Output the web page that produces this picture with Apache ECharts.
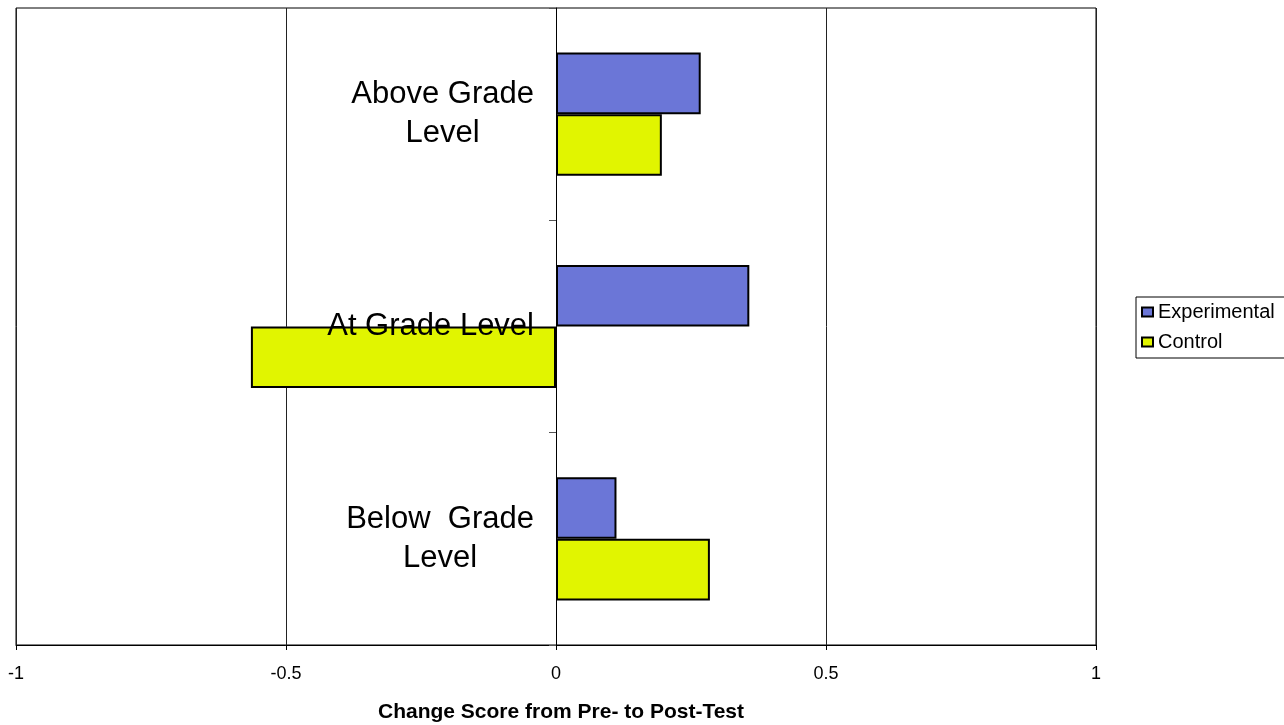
<!DOCTYPE html>
<html>
<head>
<meta charset="utf-8">
<script src="https://cdn.jsdelivr.net/npm/echarts@6/dist/echarts.min.js"></script>
<style>
html,body{margin:0;padding:0;background:#fff;}
#chart{width:1284px;height:725px;}
</style>
</head>
<body>
<div id="chart"></div>
<script>
var categories = ['Below Grade Level', 'At Grade Level', 'Above Grade Level'];
var categoryLabels = {
  'Below Grade Level': ['Below  Grade', 'Level'],
  'At Grade Level': ['At Grade Level'],
  'Above Grade Level': ['Above Grade', 'Level']
};
var experimental = [0.112, 0.358, 0.268];
var control = [0.285, -0.565, 0.196];
var xTicks = { min: -1, max: 1, interval: 0.5 };
var axisTitle = 'Change Score from Pre- to Post-Test';

var FONT = '"Liberation Sans", Arial, sans-serif';
var GRID_LEFT = 16, GRID_RIGHT = 188;
var plotWidth = 1284 - GRID_LEFT - GRID_RIGHT;
// offset of the category axis so it sits at x = 0 of the value axis
var yAxisOffset = -plotWidth * (0 - xTicks.min) / (xTicks.max - xTicks.min);

var chart = echarts.init(document.getElementById('chart'));
chart.setOption({
  animation: false,
  textStyle: { fontFamily: FONT },
  grid: {
    left: GRID_LEFT, right: GRID_RIGHT, top: 8, bottom: 80,
    show: true, borderColor: '#000', borderWidth: 1, backgroundColor: 'transparent',
    containLabel: false,
    outerBoundsMode: 'none'
  },
  legend: {
    orient: 'vertical',
    left: 1136, top: 297,
    data: ['Experimental', 'Control'],
    icon: 'rect',
    itemWidth: 11, itemHeight: 9, itemGap: 10,
    borderColor: '#000', borderWidth: 1,
    padding: [5, 10, 6, 5],
    itemStyle: { borderColor: '#000', borderWidth: 2 },
    textStyle: { fontSize: 20, color: '#000', fontFamily: FONT }
  },
  xAxis: {
    type: 'value',
    min: xTicks.min, max: xTicks.max, interval: xTicks.interval,
    name: axisTitle,
    nameLocation: 'middle',
    nameGap: 57,
    nameTextStyle: { fontSize: 21, fontWeight: 'bold', color: '#000', fontFamily: FONT, padding: [0, 0, 0, 10] },
    axisLine: { show: true, onZero: false, lineStyle: { color: '#000', width: 1 } },
    axisTick: { show: true, length: 5, lineStyle: { color: '#000' } },
    axisLabel: { fontSize: 18, color: '#000', margin: 20, fontFamily: FONT },
    splitLine: { show: true, lineStyle: { color: '#222', width: 1 } }
  },
  yAxis: {
    type: 'category',
    data: categories,
    position: 'left',
    offset: yAxisOffset,
    z: 10,
    axisLine: { show: true, onZero: false, lineStyle: { color: '#000', width: 1 } },
    axisTick: { show: true, length: 7, lineStyle: { color: '#555' } },
    axisLabel: {
      margin: 22,
      fontFamily: FONT,
      formatter: function (v) {
        return categoryLabels[v].map(function (s) { return '{a|' + s + '}'; }).join('\n');
      },
      rich: {
        a: { fontSize: 31, lineHeight: 39, color: '#000', align: 'center', fontFamily: FONT }
      }
    },
    splitLine: { show: false }
  },
  series: [
    {
      name: 'Experimental',
      type: 'bar',
      data: experimental,
      barGap: '0%',
      barCategoryGap: '42%',
      itemStyle: { color: '#6B76D7', borderColor: '#000', borderWidth: 2 }
    },
    {
      name: 'Control',
      type: 'bar',
      data: control,
      barGap: '0%',
      barCategoryGap: '42%',
      itemStyle: { color: '#E1F500', borderColor: '#000', borderWidth: 2 }
    }
  ]
});
</script>
</body>
</html>
